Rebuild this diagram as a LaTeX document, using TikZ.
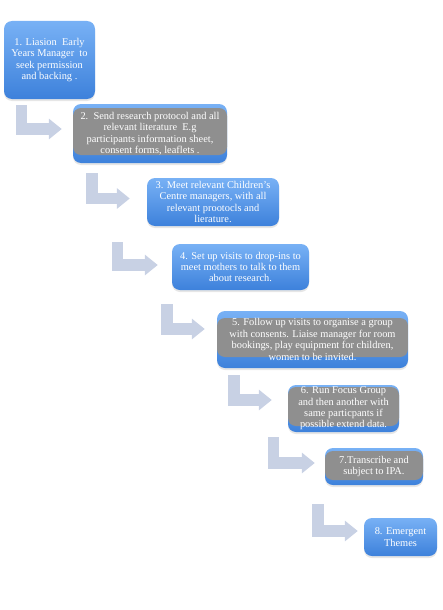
\documentclass[tikz,border=0pt]{standalone}
\usepackage{fontspec}
\setmainfont{Liberation Serif}
\usepackage{tikz}
\usetikzlibrary{arrows.meta, shadows}

\definecolor{boxtop}{HTML}{78B1F5}
\definecolor{boxbot}{HTML}{3D81DB}
\definecolor{gfill}{HTML}{8F8F8F}
\definecolor{elbowc}{HTML}{C8D1E4}

\begin{document}
\begin{tikzpicture}[x=1pt, y=-1pt,
  box/.style={rounded corners=8pt, top color=boxtop, bottom color=boxbot, text=white, align=center,
    inner sep=0pt, font=\fontsize{10.4}{11.4}\selectfont,
    drop shadow={shadow xshift=0pt, shadow yshift=-2pt, opacity=0.2}},
  gbox/.style 2 args={box, path picture={\fill[gfill] ([yshift=-#1]path picture bounding box.north west) rectangle ([yshift=#2]path picture bounding box.south east);}},
  elbow/.style={draw=elbowc, line width=11.5pt, -{Triangle[length=13pt, width=20pt]}}]
\useasboundingbox (0,0) rectangle (442,610);
% steps
\node[box, minimum width=91pt, minimum height=78pt] (b1) at (49.5,60) {1. Liasion\ \ Early\\Years Manager\ \ to\\seek permission\\and backing .};
\node[gbox={4pt}{8pt}, minimum width=154pt, minimum height=59pt] (b2) at (150,133.5) {2.\ \ Send research protocol and all\\relevant literature\ \ E.g\\participants information sheet,\\consent forms, leaflets .};
\node[box, minimum width=132pt, minimum height=48pt] (b3) at (213,202) {3. Meet relevant Children's\\Centre managers, with all\\relevant prootocls and\\lierature.};
\node[box, minimum width=137pt, minimum height=46pt] (b4) at (240.5,267) {4. Set up visits to drop-ins to\\meet mothers to talk to them\\about research.};
\node[gbox={7pt}{11pt}, minimum width=191pt, minimum height=57pt] (b5) at (312.5,339.5) {5. Follow up visits to organise a group\\with consents. Liaise manager for room\\bookings, play equipment for children,\\women to be invited.};
\node[gbox={2pt}{6pt}, minimum width=111pt, minimum height=47pt] (b6) at (343.5,408.5) {6. Run Focus Group\\and then another with\\same particpants if\\possible extend data.};
\node[gbox={3pt}{5pt}, minimum width=98pt, minimum height=37pt] (b7) at (374,466.5) {7.Transcribe and\\subject to IPA.};
\node[box, minimum width=73pt, minimum height=38pt] (b8) at (400.5,537) {8. Emergent\\Themes};
% bent arrows
\foreach \s/\t/\x/\y/\gx/\gy in {b1/b2/21.5/105/11/4.5, b2/b3/92/173/17/3.5, b3/b4/117.5/242/14/2,
  b4/b5/167/304/12/10.5, b5/b6/234/375/16/8.5, b6/b7/273.5/437/10/3.5, b7/b8/318/504/6/6} {
  \coordinate (top\s) at (\x,\y);
  \draw[elbow] (top\s) |- ([xshift=-\gx pt, yshift=\gy pt]\t.west);
}
\end{tikzpicture}
\end{document}
